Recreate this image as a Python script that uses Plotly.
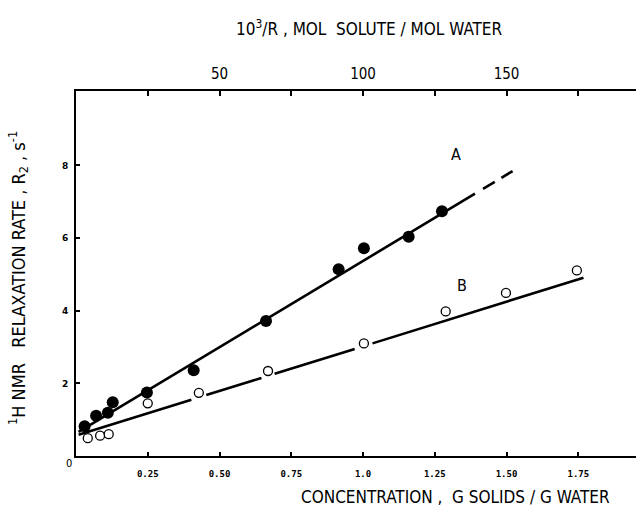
import plotly.graph_objects as go

# ---- data ----
A_X = [0.030, 0.070, 0.111, 0.128, 0.247, 0.410, 0.662, 0.915, 1.003, 1.159, 1.275]
A_Y = [0.82, 1.11, 1.19, 1.48, 1.75, 2.36, 3.72, 5.14, 5.72, 6.04, 6.74]
B_X = [0.041, 0.084, 0.114, 0.250, 0.428, 0.669, 1.003, 1.288, 1.498, 1.745]
B_Y = [0.49, 0.56, 0.60, 1.45, 1.74, 2.34, 3.10, 3.98, 4.49, 5.11]

# fitted lines: intercept, slope, and drawn x-pieces (solid / dashed parts)
A_FIT = (0.62, 4.75)
A_SOLID = [(0.009, 1.390)]
A_DASH = [(1.418, 1.459), (1.482, 1.521)]
B_FIT = (0.56, 2.46)
B_SOLID = [(0.009, 0.402), (0.454, 0.646), (0.692, 0.971), (1.033, 1.768)]

X_TICKS = [0.25, 0.50, 0.75, 1.0, 1.25, 1.50, 1.75]
X_TICKTEXT = ["0.25", "0.50", "0.75", "1.0", "1.25", "1.50", "1.75"]
Y_TICKS = [2, 4, 6, 8]
TOP_TICKS = [25, 50, 75, 100, 125, 150, 175]
TOP_TICKTEXT = ["", "50", "", "100", "", "150", ""]

X_RANGE = [0, 1.951]
Y_RANGE = [0, 10.05]
TOP_RANGE = [0, 195.1]

FONT = "Liberation Sans Narrow, DejaVu Sans Condensed, Arial Narrow, sans-serif"


def pieces(fit, spans):
    b, m = fit
    xs, ys = [], []
    for x0, x1 in spans:
        xs += [x0, x1, None]
        ys += [b + m * x0, b + m * x1, None]
    return xs, ys


fig = go.Figure()

ax, ay = pieces(A_FIT, A_SOLID + A_DASH)
fig.add_trace(go.Scatter(x=ax, y=ay, mode="lines",
                         line=dict(color="black", width=2.6),
                         hoverinfo="skip", showlegend=False))
bx, by = pieces(B_FIT, B_SOLID)
fig.add_trace(go.Scatter(x=bx, y=by, mode="lines",
                         line=dict(color="black", width=2.6),
                         hoverinfo="skip", showlegend=False))

fig.add_trace(go.Scatter(x=A_X, y=A_Y, mode="markers", name="A",
                         marker=dict(symbol="circle", size=12, color="black"),
                         showlegend=False))
fig.add_trace(go.Scatter(x=B_X, y=B_Y, mode="markers", name="B",
                         marker=dict(symbol="circle", size=9, color="white",
                                     line=dict(color="black", width=1.3)),
                         showlegend=False))

# invisible trace to carry the top axis
fig.add_trace(go.Scatter(x=TOP_TICKS, y=[None] * len(TOP_TICKS), xaxis="x2",
                         mode="markers", hoverinfo="skip", showlegend=False))

W, H = 636, 512
L, R, T, B = 76, 0, 91, 56
pw, ph = W - L - R, H - T - B


def px(xp):
    return (xp - L) / pw


def py(yp):
    return (H - B - yp) / ph


fig.update_layout(
    width=W, height=H,
    margin=dict(l=L, r=R, t=T, b=B, pad=0),
    paper_bgcolor="white", plot_bgcolor="white",
    font=dict(family=FONT, color="black"),
    xaxis=dict(range=X_RANGE, showgrid=False, zeroline=False,
               showline=True, linecolor="black", linewidth=2,
               tickvals=X_TICKS, ticktext=X_TICKTEXT,
               ticks="inside", ticklen=4, tickwidth=1.5, tickcolor="black",
               tickfont=dict(family="DejaVu Sans Mono, monospace", size=9, weight="bold"),
               ticklabelstandoff=8),
    xaxis2=dict(range=TOP_RANGE, overlaying="x", side="top", showgrid=False,
                zeroline=False, showline=True, linecolor="black", linewidth=2,
                tickvals=TOP_TICKS, ticktext=TOP_TICKTEXT,
                ticks="inside", ticklen=5, tickwidth=1.5, tickcolor="black",
                tickfont=dict(family=FONT, size=15), ticklabelstandoff=4),
    yaxis=dict(range=Y_RANGE, showgrid=False, zeroline=False,
               showline=True, linecolor="black", linewidth=2,
               tickvals=Y_TICKS,
               ticks="inside", ticklen=4, tickwidth=1.5, tickcolor="black",
               tickfont=dict(family="DejaVu Sans, sans-serif", size=9, weight="bold"),
               ticklabelstandoff=4),
    annotations=[
        dict(text="10<sup>3</sup>/R , MOL  SOLUTE / MOL WATER", xref="paper", yref="paper",
             x=px(369), y=py(28), showarrow=False, font=dict(size=17),
             xanchor="center", yanchor="middle"),
        dict(text="CONCENTRATION ,  G SOLIDS / G WATER", xref="paper", yref="paper",
             x=px(455), y=py(497), showarrow=False, font=dict(size=17),
             xanchor="center", yanchor="middle"),
        dict(text="<sup>1</sup>H NMR   RELAXATION RATE , R<sub>2</sub> , s<sup>-1</sup>",
             xref="paper", yref="paper", x=px(18), y=py(278), textangle=-90,
             showarrow=False, font=dict(size=18), xanchor="center", yanchor="middle"),
        dict(text="A", xref="paper", yref="paper", x=px(456), y=py(155),
             showarrow=False, font=dict(size=16), xanchor="center", yanchor="middle"),
        dict(text="B", xref="paper", yref="paper", x=px(462), y=py(285),
             showarrow=False, font=dict(size=16), xanchor="center", yanchor="middle"),
        dict(text="0", xref="paper", yref="paper", x=px(69), y=py(463),
             showarrow=False, font=dict(family="DejaVu Sans, sans-serif", size=10),
             xanchor="center", yanchor="middle"),
    ],
)

fig.write_html("out.html")
